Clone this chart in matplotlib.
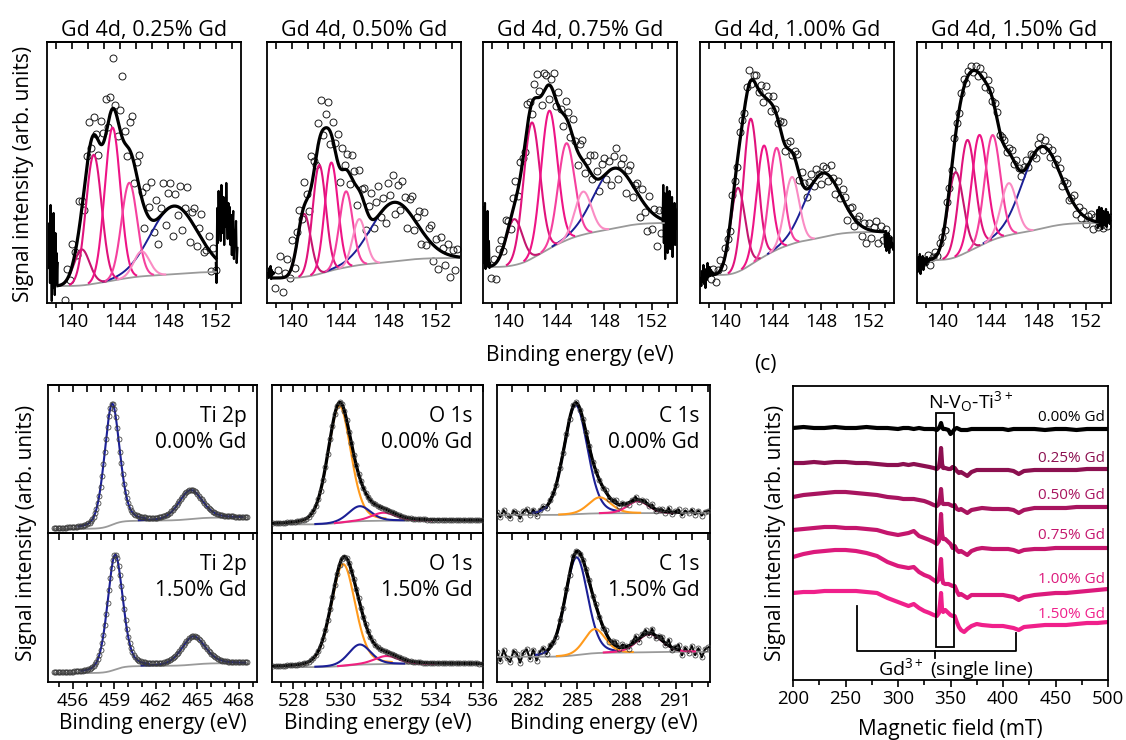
import numpy as np
import matplotlib.pyplot as plt
from matplotlib.ticker import MultipleLocator
from matplotlib.patches import Rectangle

plt.rcParams['font.family'] = ['Open Sans', 'DejaVu Sans']
plt.rcParams['mathtext.fontset'] = 'custom'
plt.rcParams['mathtext.rm'] = 'Open Sans'
plt.rcParams['mathtext.it'] = 'Open Sans:italic'
plt.rcParams['mathtext.bf'] = 'Open Sans:bold'
plt.rcParams['axes.linewidth'] = 1.3

# ---------------- Gd 4d fits (heights in arb. units) ----------------
gd_conc = ['0.25', '0.50', '0.75', '1.00', '1.50']
gd_centers = [[140.8, 141.8, 143.37, 144.77, 145.8],
              [141.0, 142.26, 143.27, 144.5, 145.6],
              [140.5, 141.97, 143.43, 144.86, 146.26],
              [141.05, 142.12, 143.23, 144.28, 145.57],
              [141.12, 142.1, 143.1, 144.2, 145.56]]
gd_heights = [[36, 129, 153, 95, 25],
              [63, 109, 108, 76, 46],
              [46, 136, 138, 97, 43],
              [84, 146, 111, 102, 67],
              [85, 112, 111, 105, 52]]
gd_hwhm = [0.77, 0.65, 0.81, 0.71, 0.77]
gd_broad_center = [148.5, 148.5, 148.85, 148.14, 148.3]
gd_broad_height = [68, 59, 60, 64, 82]
gd_broad_hwhm = [2.3, 2.24, 2.0, 1.77, 1.88]
gd_bg_lo = [17, 25, 36, 28, 43]
gd_bg_hi = [31, 45, 80, 71, 80]
gd_fit_lo = [138.8, 138.3, 138.5, 139.0, 139.2]
gd_fit_hi = [152.0, 153.9, 153.0, 153.4, 153.0]

gd_pts_lo = [139.4, 138.6, 138.6, 138.8, 138.6]
gd_pts_hi = [152.0, 153.8, 153.0, 153.6, 154.0]
gd_res = [
    [-18, 10, -6, 22, 4, -12, 26, 8, -20, 14, 30, -8, 18, 2, -14, 24, 10, 36, -4, 16, 50, 6,
     -16, 20, 62, 12, -10, 28, 40, -18, 14, 32, 6, -22, 26, 10, 38, -12, 20, -26, 8, 30, -14,
     16, 24, -30, 12, -8, 22, -20, 4, 28, -24, 10, 18, -16, 6, 24, -10, -4, 14, -18, 8, -12],
    [-10, 8, 22, -14, 4, 16, -6, 26, -12, 10, 18, -4, 24, 6, -16, 30, 12, -8, 20, 34, -6, 14,
     26, -12, 18, 8, 28, -14, 22, 4, 16, -10, 24, 12, -18, 20, 6, 14, -20, 10, 26, -8, 16, 30,
     -4, 12, -16, 22, 8, 28, -12, 18, -6, 24, 10, -18, 14, 20, -10, 6, 16, -14, 22, -8, 12, 18,
     -16, 8, -20, 14, 4, -12, 10, -22, 6, -14, 8],
    [-12, 6, -16, 10, 14, -4, 18, 8, -10, 12, 20, -6, 16, 4, -8, 22, 10, -12, 14, 24, 6, -10,
     18, 12, -14, 8, 20, -6, 14, 2, -12, 16, 10, -8, 18, 4, -14, 12, 20, -10, 6, 16, -4, 22, 8,
     -12, 14, 18, -6, 10, -16, 12, 20, -10, 6, 14, -18, 8, 16, -12, 4, 10, -20, 12, -8, -24, 14,
     -16, 6, -30, 8, -14, 10],
    [-4, 6, -8, 3, 10, -2, 8, 4, -6, 9, 2, -5, 12, 6, -3, 8, 14, -4, 6, 10, -2, 8, -6, 12, 4,
     -8, 10, 2, -4, 8, 16, -6, 5, 9, -3, 7, 12, -5, 10, 4, -8, 6, 11, -4, 9, 2, -10, 7, 5, -6,
     12, 3, -9, 8, -4, 10, 6, -12, 4, 9, -7, 3, 8, -10, 5, -14, 7, -8, 4, 10, -12, 6, -8, 3, -6],
    [-3, 4, -6, 2, 5, -2, 6, 3, -4, 7, 1, -3, 8, 4, -2, 5, 9, -3, 4, 6, -1, 5, -4, 7, 3, -5, 6,
     1, -3, 5, 8, -4, 3, 6, -2, 5, 7, -3, 6, 2, -5, 4, 8, -3, 6, 1, -6, 5, 10, -4, 7, 2, -5, 6,
     -3, 7, 4, -8, 3, 6, -5, 2, 9, -6, 4, -4, 5, -7, 3, 6, -8, 4, -5, 2, -6, 3, -4, 5],
]
# raw data outside the fit window (drawn as a line)
gd_left_x = [(138.05, 138.8), (138.0, 138.5), (137.9, 138.5), (137.95, 139.0), (137.9, 139.2)]
gd_left_y = [[35, 80, 20, 98, 45, 2, 60, 15, 90, 30, 8, 70, 22, 50, 18, 40],
             [30, 25, 35, 27, 37, 24, 33, 28, 31, 29, 30],
             [40, 96, 52, 100, 34, 82, 44, 92, 36, 62, 35, 40],
             [25, 17, 32, 21, 38, 19, 29, 15, 34, 23, 40, 26, 30, 36, 27, 33, 29, 31, 30],
             [40, 31, 46, 35, 49, 29, 43, 37, 47, 33, 45, 39, 44, 38, 46, 41, 44, 42, 45, 43, 44, 43, 45]]
gd_right_x = [(152.0, 153.8), (153.8, 153.9), (152.9, 154.1), (153.3, 154.1), (152.9, 154.1)]
gd_right_y = [[40, 20, 95, 60, 112, 75, 100, 62, 118, 82, 70, 106, 58, 92, 76, 120, 86, 64, 100,
               72, 96, 58, 88, 48, 78, 92, 44, 72, 60, 82, 40, 55],
              [],
              [80, 118, 60, 110, 44, 102, 70, 116, 50, 96, 64, 112, 54, 90, 78, 106, 46, 86, 70,
               100, 58, 94, 74, 84],
              [68, 56, 72, 52, 64, 58, 70, 50, 62, 55, 66, 57, 60, 53, 58],
              [80, 93, 75, 89, 96, 77, 91, 82, 95, 74, 86, 92, 78, 89, 84, 94, 76, 85, 91, 81, 88,
               79, 86, 83]]

# ---------------- Ti 2p / O 1s / C 1s fits (row 0: 0.00% Gd, row 1: 1.50% Gd) ----------------
xps_core = ['Ti 2p', 'O 1s', 'C 1s']
xps_conc = ['0.00% Gd', '1.50% Gd']
xps_range = [(454.6, 468.6), (527.15, 536.0), (280.1, 293.0)]
xps_xlim = [(454.2, 469.3), (527.1, 536.0), (280.1, 293.1)]
xps_major = [3, 2, 3]
xps_minor = [1, 0.5, 1]
xps_eta = [0.3, 0.25, 0.2]
ti_centers = [[458.83, 464.5], [459.05, 464.7]]
ti_heights = [[121, 29], [114, 28]]
ti_hwhm = [[0.65, 1.0], [0.65, 1.0]]
ti_bg = [(4, 15.5), (8.7, 18.7)]
o_centers = [[529.94, 530.8, 531.8], [530.1, 530.8, 531.93]]
o_heights = [[117, 15, 8], [101, 20, 8]]
o_hwhm = [[0.57, 0.55, 0.6], [0.6, 0.55, 0.6]]
o_bg = [(8.5, 12.5), (14.7, 18)]
c_centers = [[284.9, 286.37, 288.7], [284.95, 286.07, 289.4]]
c_heights = [[109, 16, 12], [97, 24, 18]]
c_hwhm = [[0.85, 0.8, 0.75], [0.8, 0.75, 0.9]]
c_bg = [(18, 20), (25, 30)]
c_res = [[2, -3, 4, -1, -4, 3, 1, -5, 2, 4, -2, 3, -4, 1, 3, -2, 2, 1, -1, 2, 0, 1, -1, 2, 1,
          -2, 0, 1, 2, -1, 1, 0, -1, 2, -2, 1, 3, -1, 2, 0, -2, 1, 3, -2, 1, 2, -1, 3, -2, 1,
          2, -1, 4, -2, 1, 3, -3, 2, -1, 3, -2, 2, -3, 1, 2],
         [4, -5, 6, -2, -6, 5, 2, -7, 3, 6, -4, 5, -6, 2, 5, -3, 3, 1, -2, 3, 0, 2, -1, 3, 1,
          -2, 0, 2, 3, -1, 2, 0, -2, 3, -3, 2, 4, -2, 3, 1, -3, 2, 5, -3, 2, 4, -2, 5, -3, 2,
          4, -2, 6, -3, 2, 5, -5, 3, -2, 5, -4, 3, -6, 2, 4]]

# ---------------- EPR ----------------
epr_field = [200, 210, 220, 230, 240, 250, 260, 270, 280, 290, 300, 305, 310, 315, 320, 325, 330,
             334, 337, 339, 340, 341, 342, 343, 345, 348, 350, 352, 354, 356, 358, 360, 363, 366,
             370, 375, 380, 390, 400, 405, 410, 415, 420, 430, 440, 450, 460, 470, 480, 490, 500]
epr_000 = [252, 253, 252, 252, 253, 252, 252, 253, 252, 252, 251, 252, 252, 251, 252, 251, 251,
           251, 250, 252, 254, 257, 253, 251, 251, 250, 246, 248, 251, 252, 251, 250, 250, 250,
           251, 251, 251, 251, 251, 250, 251, 251, 251, 251, 250, 251, 251, 250, 251, 251, 251]
epr_025 = [217, 217, 218, 217, 218, 218, 217, 217, 216, 215, 215, 216, 215, 216, 215, 214, 213,
           212, 211, 213, 220, 232, 216, 212, 212, 211, 211, 213, 212, 209, 207, 208, 206, 204,
           208, 210, 210, 210, 210, 210, 209, 206, 209, 210, 210, 210, 210, 210, 211, 211, 211]
epr_050 = [183, 185, 186, 187, 188, 188, 187, 186, 185, 183, 182, 181, 181, 181, 180, 179, 177,
           175, 174, 176, 182, 191, 178, 176, 176, 176, 175, 174, 175, 171, 170, 171, 169, 167,
           170, 171, 172, 171, 171, 171, 170, 167, 170, 172, 172, 172, 172, 173, 173, 173, 173]
epr_075 = [150, 151, 152, 153, 153, 152, 152, 151, 150, 147, 145, 146, 147, 149, 144, 142, 140,
           138, 136, 139, 150, 166, 146, 141, 141, 138, 136, 132, 134, 130, 128, 129, 127, 125,
           129, 131, 132, 131, 131, 131, 130, 128, 130, 131, 131, 132, 132, 132, 132, 132, 132]
epr_100 = [123, 126, 128, 129, 130, 130, 129, 127, 124, 118, 114, 113, 112, 113, 108, 105, 103,
           100, 98, 101, 110, 121, 102, 97, 96, 96, 95, 94, 94, 89, 85, 86, 84, 82, 85, 85, 85,
           85, 85, 84, 83, 80, 83, 85, 86, 87, 87, 88, 89, 90, 91]
epr_150 = [87, 88, 88, 89, 89, 89, 89, 88, 87, 82, 78, 76, 74, 76, 72, 69, 67, 65, 64, 67, 76,
           87, 70, 68, 70, 67, 65, 64, 64, 58, 53, 50, 48, 51, 54, 56, 55, 54, 54, 53, 52, 50, 53,
           54, 55, 55, 55, 56, 57, 57, 58]
epr_traces = [epr_000, epr_025, epr_050, epr_075, epr_100, epr_150]
epr_labels = ['0.00% Gd', '0.25% Gd', '0.50% Gd', '0.75% Gd', '1.00% Gd', '1.50% Gd']
epr_label_y = [259, 218, 181, 141, 97, 62]
epr_colors = ['#000000', '#8c1050', '#a8145f', '#c4166d', '#dc1a7c', '#f0208b']
nvo_box = (336.0, 353.5)
gd_line = (261.0, 412.7, 335.0)

# ---------------- helpers ----------------
W, H = 1126, 740
fig = plt.figure(figsize=(W / 100, H / 100), dpi=100)


def box(l, t, r, b):
    return [l / W, 1 - b / H, (r - l) / W, (b - t) / H]


def peak(x, c, h, w, eta=0.0):
    u = ((x - c) / w) ** 2
    return h * ((1 - eta) * np.exp(-np.log(2) * u) + eta / (1 + u))


def fit_model(x, centers, heights, widths, lo, hi, eta=0.0):
    comps = [peak(x, c, h, w, eta) for c, h, w in zip(centers, heights, widths)]
    cum = np.cumsum(np.sum(comps, axis=0))
    bg = lo + (hi - lo) * cum / cum[-1]  # Shirley-type background
    return comps, bg


def style_x(ax, major, minor, bottom=True):
    ax.xaxis.set_major_locator(MultipleLocator(major))
    ax.xaxis.set_minor_locator(MultipleLocator(minor))
    ax.set_yticks([])
    ax.tick_params(axis='x', which='both', direction='out', width=1.2, labelsize=13.5,
                   pad=2, bottom=bottom, labelbottom=bottom)
    ax.tick_params(axis='x', which='major', length=5)
    ax.tick_params(axis='x', which='minor', length=3.5)
    sec = ax.secondary_xaxis('top')
    sec.xaxis.set_major_locator(MultipleLocator(major))
    sec.xaxis.set_minor_locator(MultipleLocator(minor))
    sec.tick_params(axis='x', which='both', direction='in', length=5, width=1.2,
                    labeltop=False)
    sec.spines['top'].set_linewidth(1.3)


PINKS = ['#c4166f', '#e0137c', '#ee1486', '#f5409e', '#fa8cc4']
NAVY = '#1b1f96'
GRAY = '#9a9a9a'
ORANGE = '#ff9a1c'
PINK = '#f0207f'

# ---------------- top row: Gd 4d ----------------
gd_left_px = [47, 267, 483, 700, 917]
for i in range(5):
    ax = fig.add_axes(box(gd_left_px[i], 42, gd_left_px[i] + 194, 303))
    x = np.linspace(gd_fit_lo[i], gd_fit_hi[i], 800)
    comps, bg = fit_model(x, gd_centers[i] + [gd_broad_center[i]],
                          gd_heights[i] + [gd_broad_height[i]],
                          [gd_hwhm[i]] * 5 + [gd_broad_hwhm[i]],
                          gd_bg_lo[i], gd_bg_hi[i])
    env = bg + np.sum(comps, axis=0)
    res = np.array(gd_res[i])
    xp = np.linspace(gd_pts_lo[i], gd_pts_hi[i], len(res))
    ax.plot(xp, np.interp(xp, x, env) + res, 'o', ms=5, mfc='none', mec='#1a1a1a',
            mew=0.7, zorder=1)
    ax.plot(np.linspace(*gd_left_x[i], len(gd_left_y[i])), gd_left_y[i], color='black',
            lw=1.6, zorder=2)
    if gd_right_y[i]:
        ax.plot(np.linspace(*gd_right_x[i], len(gd_right_y[i])), gd_right_y[i],
                color='black', lw=1.6, zorder=2)
    ax.plot(x, bg, color=GRAY, lw=1.3, zorder=3)
    m = comps[5] > 0.01 * gd_broad_height[i]
    ax.plot(x[m], (bg + comps[5])[m], color=NAVY, lw=1.4, zorder=4)
    for k in range(5):
        m = comps[k] > 0.01 * gd_heights[i][k]
        ax.plot(x[m], (bg + comps[k])[m], color=PINKS[k], lw=1.5, zorder=5)
    ax.plot(x, env, color='black', lw=2.3, zorder=6)
    ax.set_xlim(137.9, 154.1)
    ax.set_ylim(0, 261)
    style_x(ax, 4, 4 / 3)
    ax.set_title('Gd 4d, %s%% Gd' % gd_conc[i], fontsize=15.5, pad=4)

fig.text(24 / W, 1 - 174 / H, 'Signal intensity (arb. units)', rotation=90, fontsize=15,
         ha='center', va='center')
fig.text(580 / W, 1 - 355 / H, 'Binding energy (eV)', fontsize=15, ha='center', va='center')
fig.text(765 / W, 1 - 365 / H, '(c)', fontsize=15, ha='center', va='center')

# ---------------- bottom: XPS core levels ----------------
col_px = [(48, 257), (272, 483), (497, 710)]
row_px = [(385, 533), (533, 682)]
params = [(ti_centers, ti_heights, ti_hwhm, ti_bg, [NAVY, NAVY]),
          (o_centers, o_heights, o_hwhm, o_bg, [ORANGE, NAVY, PINK]),
          (c_centers, c_heights, c_hwhm, c_bg, [NAVY, ORANGE, PINK])]
for j in range(3):
    cen, hei, hw, bgs, cols = params[j]
    for r in range(2):
        ax = fig.add_axes(box(col_px[j][0], row_px[r][0], col_px[j][1], row_px[r][1]))
        x = np.linspace(xps_range[j][0], xps_range[j][1], 1200)
        comps, bg = fit_model(x, cen[r], hei[r], hw[r], bgs[r][0], bgs[r][1], xps_eta[j])
        env = bg + np.sum(comps, axis=0)
        if j == 2:
            res = np.array(c_res[r])
            xp = np.linspace(xps_range[j][0], xps_range[j][1], len(res))
            yp = np.interp(xp, x, env) + res
            ax.plot(xp, yp, color='black', lw=1.5, zorder=2)
        else:
            xp = np.arange(xps_range[j][0], xps_range[j][1] + 1e-6, 0.1)
            yp = np.interp(xp, x, env)
        ax.plot(x, bg, color=GRAY, lw=1.3, zorder=3)
        if j > 0:
            fm = (x > 283.2) & (x < 291.2) if j == 2 else np.ones_like(x, bool)
            ax.plot(x[fm], env[fm], color='black', lw=2.3, zorder=4)
        for k in range(len(comps)):
            m = comps[k] > 0.02 * hei[r][k]
            ax.plot(x[m], (bg + comps[k])[m], color=cols[k], lw=1.5,
                    zorder=5 if j == 0 else 3.5)
        ax.plot(xp, yp, 'o', ms=3.6, mfc='none', mec='#3a3a3a', mew=0.55, zorder=6)
        ax.set_xlim(*xps_xlim[j])
        ax.set_ylim(0, 148)
        style_x(ax, xps_major[j], xps_minor[j], bottom=(r == 1))
        ax.text(0.95, 0.752, xps_core[j], transform=ax.transAxes, fontsize=15,
                ha='right', va='baseline')
        ax.text(0.95, 0.575, xps_conc[r], transform=ax.transAxes, fontsize=15,
                ha='right', va='baseline')
    fig.text((col_px[j][0] + col_px[j][1]) / 2 / W, 1 - 723 / H, 'Binding energy (eV)',
             fontsize=15, ha='center', va='center')

fig.text(27 / W, 1 - 533 / H, 'Signal intensity (arb. units)', rotation=90, fontsize=15,
         ha='center', va='center')

# ---------------- EPR ----------------
ax = fig.add_axes(box(793, 386, 1108, 680))
for tr, col, lab, ly in zip(epr_traces, epr_colors, epr_labels, epr_label_y):
    ax.plot(epr_field, tr, color=col, lw=3.0)
    ax.text(497, ly, lab, color=col, fontsize=11, ha='right', va='baseline')
ax.add_patch(Rectangle((nvo_box[0], 33), nvo_box[1] - nvo_box[0], 234, fill=False,
                       lw=1.3, ec='black', zorder=5))
ax.plot([gd_line[0], gd_line[0], gd_line[1], gd_line[1]], [74, 29, 29, 47], color='black',
        lw=1.3)
ax.plot([gd_line[2], gd_line[2]], [29, 22], color='black', lw=1.3)
ax.text(329, 272, r'N-V$_{\mathrm{O}}$-Ti$^{3+}$', fontsize=14, ha='left', va='baseline')
ax.text(281, 5, r'Gd$^{3+}$ (single line)', fontsize=14, ha='left', va='baseline')
ax.set_xlim(200, 500)
ax.set_ylim(0, 294)
ax.xaxis.set_major_locator(MultipleLocator(50))
ax.xaxis.set_minor_locator(MultipleLocator(25))
ax.set_yticks([])
ax.tick_params(axis='x', which='both', direction='out', width=1.2, labelsize=13.5, pad=2)
ax.tick_params(axis='x', which='major', length=5)
ax.tick_params(axis='x', which='minor', length=3.5)
fig.text(776 / W, 1 - 533 / H, 'Signal intensity (arb. units)', rotation=90, fontsize=15,
         ha='center', va='center')
fig.text(950 / W, 1 - 729 / H, 'Magnetic field (mT)', fontsize=15, ha='center', va='center')

fig.savefig('out.png', dpi=100)
